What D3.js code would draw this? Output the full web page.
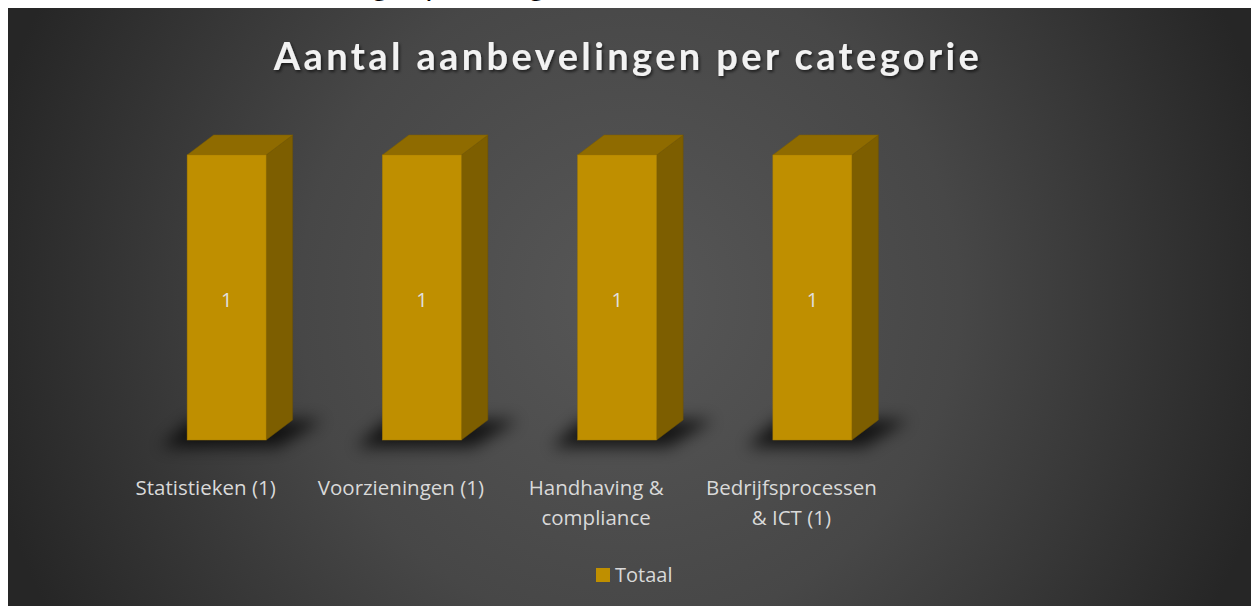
<!DOCTYPE html>
<html>
<head>
<meta charset="utf-8">
<script src="https://cdn.jsdelivr.net/npm/d3@7"></script>
<style>
  html, body { margin: 0; padding: 0; background: #fff; }
  svg { display: block; }
</style>
</head>
<body>
<svg id="chart" width="1253" height="606"></svg>
<script>
// data
const categories = ["Statistieken (1)", "Voorzieningen (1)", "Handhaving & compliance", "Bedrijfsprocessen & ICT (1)"]
const totaal = [1, 1, 1, 1]
const seriesName = "Totaal"
const chartTitle = "Aantal aanbevelingen per categorie"

let svg = d3.select("#chart")
let W = 1253, H = 606
let titleFont = "Lato, 'Open Sans', sans-serif"
let font = "'Open Sans', Lato, sans-serif"

let defs = svg.append("defs")

let grad = defs.append("radialGradient")
    .attr("id", "bg")
    .attr("gradientUnits", "userSpaceOnUse")
    .attr("cx", 630).attr("cy", 300).attr("r", 660)
grad.append("stop").attr("offset", "0").attr("stop-color", "#575757")
grad.append("stop").attr("offset", "0.5").attr("stop-color", "#474747")
grad.append("stop").attr("offset", "1").attr("stop-color", "#262626")

defs.append("filter").attr("id", "blur")
    .attr("x", "-50%").attr("y", "-100%").attr("width", "200%").attr("height", "300%")
    .append("feGaussianBlur").attr("stdDeviation", 8)

let ts = defs.append("filter").attr("id", "tshadow")
ts.append("feDropShadow").attr("dx", 1.5).attr("dy", 2).attr("stdDeviation", 1.5)
    .attr("flood-color", "#000").attr("flood-opacity", 0.6)

// heading of the page above, cut off
let cut = svg.append("text")
    .attr("x", 0).attr("y", -4)
    .attr("font-family", titleFont)
    .attr("font-style", "italic")
    .attr("font-size", 31)
    .attr("fill", "#000")
    .text(chartTitle)
let gx = cut.node().getStartPositionOfChar(17).x
cut.attr("x", 374 - gx)

// chart area
svg.append("rect")
    .attr("x", 8).attr("y", 8)
    .attr("width", W - 10).attr("height", H - 8)
    .attr("fill", "url(#bg)")

// title
svg.append("text")
    .attr("x", 628).attr("y", 70)
    .attr("text-anchor", "middle")
    .attr("font-family", titleFont)
    .attr("font-weight", "bold")
    .attr("font-size", 38)
    .attr("letter-spacing", 3.4)
    .attr("fill", "#f2f2f2")
    .attr("filter", "url(#tshadow)")
    .text(chartTitle)

// scales
let x = d3.scaleBand().domain(categories).range([108, 889]).padding(0)
let y = d3.scaleLinear().domain([0, 1]).range([440, 155])

let frontW = 79, dx = 26.5, dy = -20, shift = 21
let frontLeft = (d, i) => x(categories[i]) + x.bandwidth() / 2 + shift - frontW / 2

let bars = svg.append("g")

// shadows
bars.selectAll(".shadow")
    .data(totaal)
    .enter().append("polygon")
    .attr("points", (d, i) => {
        let l = frontLeft(d, i), b = y(0)
        return [[l - 26, b + 7], [l + frontW + 12, b + 7], [l + frontW + dx + 30, b - 20], [l + 4, b - 20]].join(" ")
    })
    .attr("fill", "#000")
    .attr("opacity", 0.75)
    .attr("filter", "url(#blur)")

// side faces
bars.selectAll(".side")
    .data(totaal)
    .enter().append("polygon")
    .attr("points", (d, i) => {
        let r = frontLeft(d, i) + frontW
        return [[r, y(d)], [r + dx, y(d) + dy], [r + dx, y(0) + dy], [r, y(0)]].join(" ")
    })
    .attr("fill", "#7d5e00")
    .attr("stroke", "#6e5300").attr("stroke-width", 0.5)

// top faces
bars.selectAll(".top")
    .data(totaal)
    .enter().append("polygon")
    .attr("points", (d, i) => {
        let l = frontLeft(d, i)
        return [[l, y(d)], [l + dx, y(d) + dy], [l + frontW + dx, y(d) + dy], [l + frontW, y(d)]].join(" ")
    })
    .attr("fill", "#8f6b00")
    .attr("stroke", "#7d5e00").attr("stroke-width", 0.5)

// front faces
bars.selectAll(".front")
    .data(totaal)
    .enter().append("rect")
    .attr("x", (d, i) => frontLeft(d, i))
    .attr("y", d => y(d))
    .attr("width", frontW)
    .attr("height", d => y(0) - y(d))
    .attr("fill", "#bf8f00")
    .attr("stroke", "#a67c00").attr("stroke-width", 0.5)

// data labels
bars.selectAll(".lbl")
    .data(totaal)
    .enter().append("text")
    .attr("x", (d, i) => frontLeft(d, i) + frontW / 2)
    .attr("y", d => (y(d) + y(0)) / 2 + 9)
    .attr("text-anchor", "middle")
    .attr("font-family", font)
    .attr("font-size", 20)
    .attr("fill", "#e0e0e0")
    .text(d => d)

// category labels, wrapped
let maxW = 180
categories.forEach(c => {
    let cx = x(c) + x.bandwidth() / 2
    let t = svg.append("text")
        .attr("x", cx)
        .attr("y", 495)
        .attr("text-anchor", "middle")
        .attr("font-family", font)
        .attr("font-size", 20.5)
        .attr("fill", "#d9d9d9")
    let words = c.split(" ")
    let line = []
    let tspan = t.append("tspan").attr("x", cx).attr("dy", 0)
    words.forEach(w => {
        line.push(w)
        tspan.text(line.join(" "))
        if (tspan.node().getComputedTextLength() > maxW && line.length > 1) {
            line.pop()
            tspan.text(line.join(" "))
            line = [w]
            tspan = t.append("tspan").attr("x", cx).attr("dy", 30).text(w)
        }
    })
})

// legend
let lg = svg.append("g")
lg.append("rect")
    .attr("x", 596).attr("y", 568)
    .attr("width", 14).attr("height", 14)
    .attr("fill", "#bf8f00")
lg.append("text")
    .attr("x", 615).attr("y", 582)
    .attr("font-family", font)
    .attr("font-size", 20)
    .attr("fill", "#d9d9d9")
    .text(seriesName)
</script>
</body>
</html>
